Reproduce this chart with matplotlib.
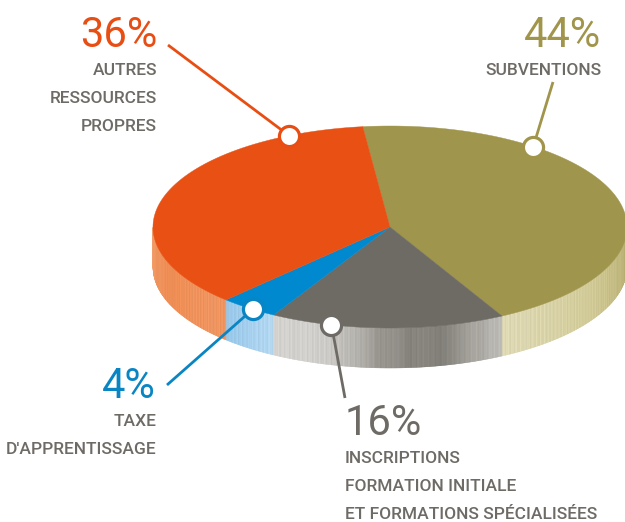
import numpy as np
import matplotlib.pyplot as plt
from matplotlib.colors import to_rgb
from matplotlib.collections import PolyCollection

plt.rcParams['font.family'] = ['Roboto', 'DejaVu Sans']

# data (clockwise from the top)
shares = [44, 16, 4, 36]
pct_labels = ["44%", "16%", "4%", "36%"]
names = [["SUBVENTIONS"],
         ["INSCRIPTIONS", "FORMATION INITIALE", "ET FORMATIONS SPÉCIALISÉES"],
         ["TAXE", "D'APPRENTISSAGE"],
         ["AUTRES", "RESSOURCES", "PROPRES"]]

top_colors = ["#A0954C", "#6E6B64", "#0089CE", "#E85014"]
text_colors = ["#A0954B", "#6E6B66", "#0A85C4", "#E84E14"]
side_stops = [
    [(0, "#DED8B2"), (0.5, "#D0C994"), (1, "#B3AA6A")],
    [(0, "#D3D2CE"), (0.25, "#CDCBC7"), (0.5, "#8E8B84"), (0.72, "#78756E"),
     (0.87, "#A3A09A"), (1, "#BDBBB5")],
    [(0, "#92C5EA"), (1, "#B2D7F1")],
    [(0, "#F39C68"), (0.5, "#EF8E55"), (1, "#F09159")],
]

# layout (pixel space)
cx, cy, a, b, depth = 390, 227, 237, 101, 40
start = 96.6
marker_ang = [52.8, 255.7, 234.6, 115.2]
line_end = [(553, 82), (345, 398), (167, 385), (168, 45)]
text_pos = [(601, 47, "right"), (345, 435, "left"),
            (156, 398, "right"), (157, 47, "right")]


def ell(t, dz=0):
    t = np.radians(t)
    return cx + a * np.cos(t), cy + dz - b * np.sin(t)


def grad(stops, f):
    fs = [s[0] for s in stops]
    cols = np.array([to_rgb(s[1]) for s in stops])
    return np.array([np.interp(f, fs, cols[:, k]) for k in range(3)]).T


fig = plt.figure(figsize=(6.25, 5.22), dpi=100)
ax = fig.add_axes([0, 0, 1, 1])
ax.set_xlim(0, 625)
ax.set_ylim(522, 0)
ax.axis("off")

bounds = start - np.concatenate([[0], np.cumsum(shares)]) * 3.6

for i in range(len(shares)):
    hi, lo = bounds[i], bounds[i + 1]
    # side of the disc (front half only)
    s_lo, s_hi = max(lo, -180), min(hi, 0)
    if s_hi > s_lo:
        ts = np.arange(s_lo, s_hi + 0.25, 0.25)
        ts[-1] = s_hi
        f = (ts[:-1] - s_lo) / (s_hi - s_lo)
        cols = grad(side_stops[i], f)
        streak = 1 + 0.05 * np.sin(ts[:-1] * 7.3) * np.sin(ts[:-1] * 2.1 + 1)
        cols = np.clip(cols * streak[:, None], 0, 1)
        polys = []
        for t0, t1 in zip(ts[:-1], ts[1:]):
            x0, y0 = ell(t0)
            x1, y1 = ell(t1)
            polys.append([(x0, y0), (x1, y1), (x1, y1 + depth), (x0, y0 + depth)])
        ax.add_collection(PolyCollection(polys, facecolors=cols, edgecolors=cols,
                                         linewidths=0.3))
    # top face
    tt = np.linspace(hi, lo, 200)
    xs, ys = ell(tt)
    ax.fill(np.r_[cx, xs], np.r_[cy, ys], color=top_colors[i], lw=0.3,
            ec=top_colors[i], zorder=3)

for i in range(len(shares)):
    mx, my = ell(marker_ang[i])
    ex, ey = line_end[i]
    ax.plot([ex, mx], [ey, my], color=text_colors[i], lw=2, zorder=4,
            solid_capstyle="butt")
    ax.plot(mx, my, "o", ms=14.5, mfc="white", mec=text_colors[i], mew=2.3,
            zorder=5)
    tx, ty, ha = text_pos[i]
    ax.text(tx, ty, pct_labels[i], color=text_colors[i], fontsize=30,
            ha=ha, va="baseline")
    for k, line in enumerate(names[i]):
        ax.text(tx, ty + 28 * (k + 1), line, color="#6E6B66", fontsize=12.5,
                ha=ha, va="baseline", fontweight="medium")

fig.savefig("out.png", dpi=100)
